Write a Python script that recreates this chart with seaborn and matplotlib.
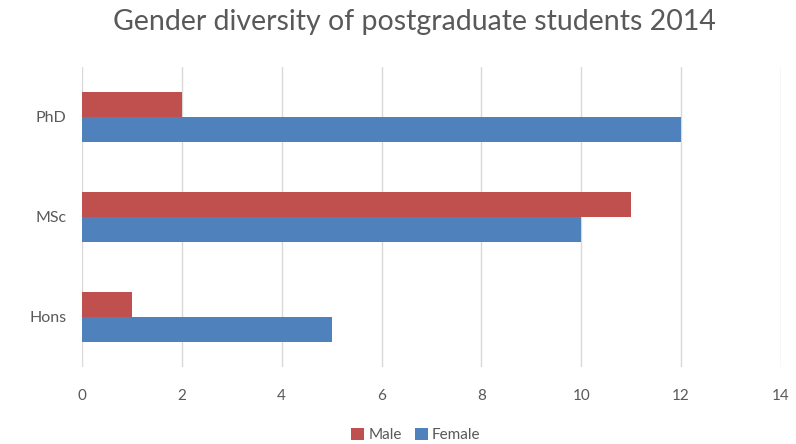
import matplotlib
matplotlib.use("Agg")
import matplotlib.pyplot as plt
import seaborn as sns
import pandas as pd

# Enrolment counts per programme
programmes = ["PhD", "MSc", "Hons"]
male = [2, 11, 1]
female = [12, 10, 5]
x_ticks = [0, 2, 4, 6, 8, 10, 12, 14]

df = pd.DataFrame({
    "Programme": programmes * 2,
    "Gender": ["Male"] * len(programmes) + ["Female"] * len(programmes),
    "Students": male + female,
})

sns.set_theme(style="white")
plt.rcParams["font.family"] = ["Lato", "DejaVu Sans"]

text_grey = "#595959"
palette = {"Male": "#C0504D", "Female": "#4F81BD"}

fig = plt.figure(figsize=(7.96, 4.44), dpi=100)
ax = fig.add_axes([82 / 796, 77 / 444, 699 / 796, 300 / 444])

sns.barplot(data=df, y="Programme", x="Students", hue="Gender",
            order=programmes, hue_order=["Male", "Female"],
            palette=palette, orient="h", width=0.5, gap=0,
            saturation=1, linewidth=0, ax=ax, legend=True)

ax.set_xlim(0, 14)
ax.set_ylim(2.5, -0.5)
ax.set_xticks(x_ticks)
ax.set_xticklabels([str(t) for t in x_ticks])
ax.grid(axis="x", color="#D9D9D9", linewidth=1)
ax.set_axisbelow(True)
for s in ax.spines.values():
    s.set_visible(False)
ax.set_xlabel("")
ax.set_ylabel("")
ax.tick_params(axis="x", length=0, pad=16, labelsize=11, labelcolor=text_grey)
ax.tick_params(axis="y", length=0, pad=11, labelsize=11.5, labelcolor=text_grey)

handles, labels = ax.get_legend_handles_labels()
ax.get_legend().remove()
fig.legend(handles, labels, loc="center", bbox_to_anchor=(416 / 796, 9 / 444),
           ncol=2, frameon=False, fontsize=11, labelcolor=text_grey,
           handlelength=0.8, handleheight=0.8, handletextpad=0.3,
           columnspacing=0.9, borderaxespad=0)

fig.text(414 / 796, 1 - 22 / 444, "Gender diversity of postgraduate students 2014",
         ha="center", va="center", fontsize=20.5, color=text_grey)

fig.savefig("out.png", dpi=100)
